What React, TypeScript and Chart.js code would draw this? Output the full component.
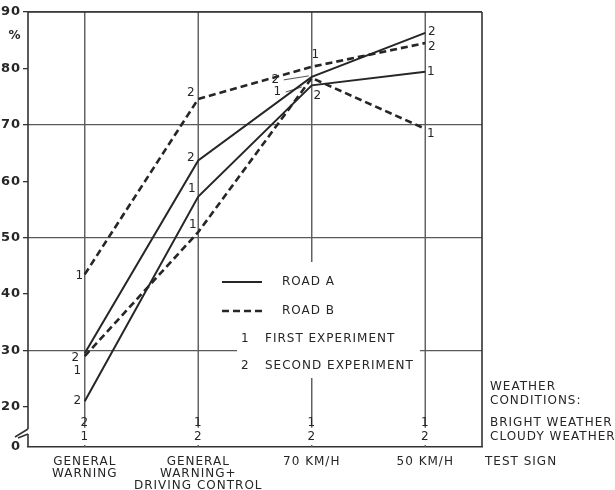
import React, { useEffect, useRef } from 'react';
import { Chart, registerables } from 'chart.js';

Chart.register(...registerables);

// ---------- data ----------
const categories: (string | string[])[] = [
  ['GENERAL', 'WARNING'],
  ['GENERAL', 'WARNING+', 'DRIVING CONTROL'],
  '70 KM/H',
  '50 KM/H',
];
const roadA_lower = [21, 57.3, 77.0, 79.4];
const roadA_upper = [29.5, 63.7, 78.5, 86.3];
const roadB_upper = [43.5, 74.6, 80.3, 84.5];
const roadB_lower = [29, 51, 78.3, 69.3];

const roadA_lowerMarks = ['2', '1', '2', '1'];
const roadA_upperMarks = ['2', '2', '2', '2'];
const roadB_upperMarks = ['1', '2', '1', '2'];
const roadB_lowerMarks = ['1', '1', '1', '1'];

const brightWeather = ['2', '1', '1', '1'];
const cloudyWeather = ['1', '2', '2', '2'];

const yTickValues = [20, 30, 40, 50, 60, 70, 80, 90];
const Y_BOTTOM = 12.9; // position of the broken-axis "0"
const fullGridValues = [30, 50, 70, 90];

const legendItems = ['ROAD A', 'ROAD B', 'FIRST EXPERIMENT', 'SECOND EXPERIMENT'];
const weatherTexts = ['WEATHER', 'CONDITIONS:', 'BRIGHT WEATHER', 'CLOUDY WEATHER'];

// ---------- styles ----------
const INK = '#262626';
const GRID = '#5a5a5a';
const FONT = '"DejaVu Sans", sans-serif';
const DASH = [7, 4];

// label offsets (dx, dy) per series, per point, plus optional leader line
// leader: [startDx from label, endDx, endDy relative to point]
type Off = { dx: number; dy: number; leader?: [number, number, number] };
const markOffsets: Off[][] = [
  [{ dx: -7, dy: 0 }, { dx: -6, dy: -8 }, { dx: 6, dy: 11 }, { dx: 6, dy: 0 }],
  [{ dx: -9, dy: 5 }, { dx: -7, dy: -3 }, { dx: -36, dy: 3, leader: [8, -3, -1] }, { dx: 7, dy: -1 }],
  [{ dx: -5, dy: 2 }, { dx: -7, dy: -6 }, { dx: 4, dy: -12 }, { dx: 7, dy: 4 }],
  [{ dx: -7, dy: 15 }, { dx: -5, dy: -7 }, { dx: -34, dy: 14, leader: [8, -10, 9] }, { dx: 6, dy: 5 }],
];
const seriesMarks = [roadA_lowerMarks, roadA_upperMarks, roadB_upperMarks, roadB_lowerMarks];

const decorPlugin = {
  id: 'decor',
  beforeDraw(chart: any) {
    const { ctx, width, height } = chart;
    ctx.save();
    ctx.fillStyle = '#fff';
    ctx.fillRect(0, 0, width, height);
    ctx.restore();
    ctx.letterSpacing = '1px';
  },
  beforeDatasetsDraw(chart: any) {
    const { ctx, chartArea: ca, scales } = chart;
    const xs = scales.x;
    const ys = scales.y;
    const line = (x1: number, y1: number, x2: number, y2: number) => {
      ctx.beginPath();
      ctx.moveTo(x1, y1);
      ctx.lineTo(x2, y2);
      ctx.stroke();
    };
    ctx.save();
    ctx.strokeStyle = GRID;
    ctx.lineWidth = 1.4;
    const yStop = ys.getPixelForValue(16.3);
    categories.forEach((_, i) => {
      const px = xs.getPixelForValue(i);
      line(px, ca.top, px, yStop);
      line(px, ca.bottom - 2, px, ca.bottom);
    });
    ctx.strokeStyle = '#333';
    ctx.lineWidth = 1.6;
    line(ca.left, ca.top, ca.right, ca.top);
    line(ca.right, ca.top, ca.right, ca.bottom);
    // left axis with break
    line(ca.left, ca.top, ca.left, ca.bottom - 18);
    line(ca.left, ca.bottom - 18, ca.left - 13, ca.bottom - 10);
    line(ca.left - 10, ca.bottom - 9, ca.left, ca.bottom - 13);
    line(ca.left, ca.bottom - 13, ca.left, ca.bottom);
    ctx.restore();
  },
  afterDatasetsDraw(chart: any) {
    const { ctx, scales } = chart;
    const xs = scales.x;
    ctx.save();
    ctx.fillStyle = INK;
    ctx.strokeStyle = INK;
    ctx.textBaseline = 'middle';
    ctx.letterSpacing = '1px';

    // point marks
    ctx.font = `12px ${FONT}`;
    ctx.textAlign = 'center';
    chart.data.datasets.forEach((_ds: any, si: number) => {
      const meta = chart.getDatasetMeta(si);
      meta.data.forEach((pt: any, i: number) => {
        const o = markOffsets[si][i];
        const tx = pt.x + o.dx;
        const ty = pt.y + o.dy;
        ctx.fillText(seriesMarks[si][i], tx, ty);
        if (o.leader) {
          ctx.lineWidth = 0.8;
          ctx.beginPath();
          ctx.moveTo(tx + o.leader[0], ty);
          ctx.lineTo(pt.x + o.leader[1], pt.y + o.leader[2]);
          ctx.stroke();
        }
      });
    });

    // weather digits
    categories.forEach((_, i) => {
      const px = xs.getPixelForValue(i);
      ctx.fillText(brightWeather[i], px, 423);
      ctx.fillText(cloudyWeather[i], px, 437);
    });

    // legend
    ctx.fillStyle = '#fff';
    ctx.fillRect(237, 262, 183, 116);
    ctx.fillStyle = INK;
    ctx.lineWidth = 2.2;
    ctx.setLineDash([]);
    ctx.beginPath();
    ctx.moveTo(222, 282);
    ctx.lineTo(262, 282);
    ctx.stroke();
    ctx.setLineDash(DASH);
    ctx.lineWidth = 2.6;
    ctx.beginPath();
    ctx.moveTo(222, 311);
    ctx.lineTo(262, 311);
    ctx.stroke();
    ctx.setLineDash([]);
    ctx.textAlign = 'left';
    ctx.fillText(legendItems[0], 282, 282);
    ctx.fillText(legendItems[1], 282, 311);
    ctx.fillText('1', 241, 339);
    ctx.fillText(legendItems[2], 265, 339);
    ctx.fillText('2', 241, 366);
    ctx.fillText(legendItems[3], 265, 366);

    // right-hand texts
    ctx.fillText(weatherTexts[0], 490, 387);
    ctx.fillText(weatherTexts[1], 490, 401);
    ctx.fillText(weatherTexts[2], 490, 423);
    ctx.fillText(weatherTexts[3], 490, 437);
    ctx.fillText('TEST SIGN', 485, 462);

    // percent sign
    ctx.font = `bold 12px ${FONT}`;
    ctx.textAlign = 'center';
    ctx.fillText('%', 15, 36);
    ctx.restore();
  },
};

export default function App() {
  const ref = useRef<HTMLCanvasElement | null>(null);
  useEffect(() => {
    if (!ref.current) return;
    const mk = (data: number[], dashed: boolean) => ({
      data,
      borderColor: INK,
      borderWidth: dashed ? 2.6 : 2,
      borderDash: dashed ? DASH : [],
      pointRadius: 0,
      tension: 0,
      fill: false,
    });
    const chart = new Chart(ref.current, {
      type: 'line',
      data: {
        labels: categories as any,
        datasets: [
          mk(roadA_lower, false),
          mk(roadA_upper, false),
          mk(roadB_upper, true),
          mk(roadB_lower, true),
        ] as any,
      },
      options: {
        animation: false,
        responsive: false,
        layout: { padding: { top: 12, right: 133, left: 0, bottom: 0 } },
        plugins: { legend: { display: false }, tooltip: { enabled: false } },
        scales: {
          x: {
            type: 'category',
            offset: true,
            grid: { display: false, drawTicks: false },
            border: { display: true, color: '#333', width: 1.6 },
            ticks: {
              autoSkip: false,
              maxRotation: 0,
              padding: 9,
              color: INK,
              font: { family: FONT, size: 12, lineHeight: 1 },
            },
            afterFit: (s: any) => {
              s.height = 43;
            },
          },
          y: {
            type: 'linear',
            min: Y_BOTTOM,
            max: 90,
            border: { display: false },
            grid: {
              lineWidth: 1.3,
              tickLength: 5,
              color: (c: any) =>
                fullGridValues.includes(c.tick?.value) ? GRID : 'rgba(0,0,0,0)',
              tickColor: (c: any) =>
                c.tick?.value === Y_BOTTOM ? 'rgba(0,0,0,0)' : '#333',
            },
            afterBuildTicks: (s: any) => {
              s.ticks = [Y_BOTTOM, ...yTickValues].map((v) => ({ value: v }));
            },
            ticks: {
              padding: 2,
              color: INK,
              font: { family: FONT, size: 13, weight: 'bold' },
              callback: (v: any) => (v === Y_BOTTOM ? '0' : String(v)),
            },
            afterFit: (s: any) => {
              s.width = 28;
            },
          },
        },
      } as any,
      plugins: [decorPlugin],
    });
    return () => chart.destroy();
  }, []);
  return (
    <div style={{ position: 'fixed', left: 0, top: 0, width: 615, height: 490, background: '#fff' }}>
      <canvas ref={ref} width={615} height={490} />
    </div>
  );
}
